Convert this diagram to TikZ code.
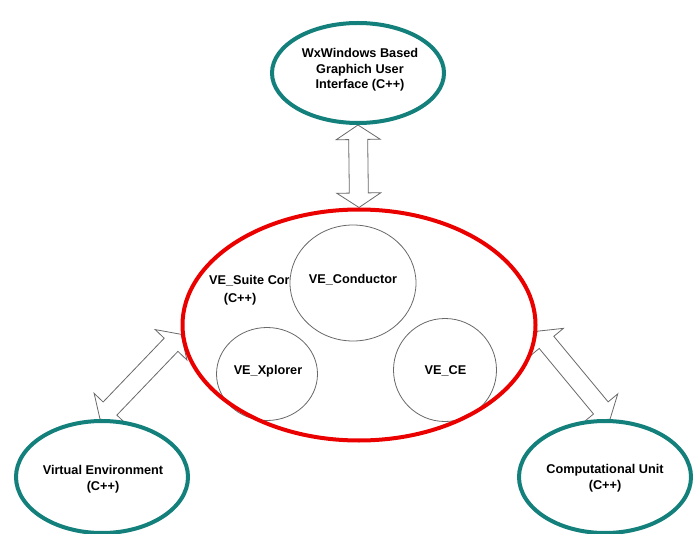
\documentclass[tikz,border=0pt]{standalone}
\usepackage{fontspec}
\setmainfont{Liberation Sans}
\usetikzlibrary{shapes.geometric,calc,backgrounds}
\definecolor{tealc}{RGB}{20,128,124}
\definecolor{redc}{RGB}{235,0,0}
\definecolor{outl}{RGB}{105,105,105}
\newcommand\blockarr[2]{%
  \coordinate (ha) at ($(#1)!14.5pt!(#2)$);
  \coordinate (hb) at ($(#2)!14.5pt!(#1)$);
  \draw[blockarrow] (#1) -- ($(ha)!22pt!90:(#2)$) -- ($(ha)!9.5pt!90:(#2)$)
    -- ($(hb)!9.5pt!-90:(#1)$) -- ($(hb)!22pt!-90:(#1)$) -- (#2)
    -- ($(hb)!22pt!90:(#1)$) -- ($(hb)!9.5pt!90:(#1)$)
    -- ($(ha)!9.5pt!-90:(#2)$) -- ($(ha)!22pt!-90:(#2)$) -- cycle;}
\tikzset{
  ellteal/.style={draw=tealc, line width=4pt, ellipse, inner sep=0pt, minimum width=172pt, minimum height=#1},
  ellred/.style={draw=redc, line width=4pt, ellipse, inner sep=0pt, minimum width=353pt, minimum height=231pt},
  innerc/.style={draw=outl, fill=white, line width=0.8pt, ellipse, inner sep=0pt},
  lbl/.style={font=\bfseries\fontsize{12.7}{15.5}\selectfont, align=center, inner sep=0pt},
  blockarrow/.style={draw=outl, fill=white, line width=0.8pt, line join=miter},
}
\begin{document}
\begin{tikzpicture}[x=1pt,y=-1pt]
\useasboundingbox (0,0) rectangle (698,534);
% core label (partly hidden)
\node[lbl, anchor=base west] (corelbl) at (209,284.6) {VE\_Suite Cor};
\node[lbl, anchor=base] (corecpp) at (240,302) {(C++)};
% inner circles
\node[innerc, minimum width=126pt, minimum height=116pt] (cond) at (353,283) {};
\node[innerc, minimum width=101pt, minimum height=93pt] (xpl) at (267,374) {};
\node[innerc, minimum width=103pt, minimum height=103pt] (vece) at (445,370) {};
\node[lbl, anchor=base] (condtxt) at (353,283.6) {VE\_Conductor};
\node[lbl, anchor=base] (xpltxt) at (268,374.6) {VE\_Xplorer};
\node[lbl, anchor=base] (vecetxt) at (445.5,374.6) {VE\_CE};
% main ellipses
\node[ellred] (core) at (359,325) {};
\node[ellteal=100pt] (gui) at (358,73) {};
\node[ellteal=112pt] (ve) at (102,477) {};
\node[ellteal=112pt] (cu) at (605,477) {};
\node[lbl] (guitxt) at (360,70) {WxWindows Based\\Graphich User\\Interface (C++)};
\node[lbl, font=\bfseries\fontsize{12.7}{16}\selectfont] (vetxt) at (103,479) {Virtual Environment\\(C++)};
\node[lbl, font=\bfseries\fontsize{12.7}{16}\selectfont] (cutxt) at (605,478) {Computational Unit\\(C++)};
% block arrows
\begin{scope}[on background layer]
\blockarr{gui.south}{core.north}
\blockarr{ve.92}{core.183}
\blockarr{cu.85}{core.-2}
\end{scope}
\end{tikzpicture}
\end{document}
